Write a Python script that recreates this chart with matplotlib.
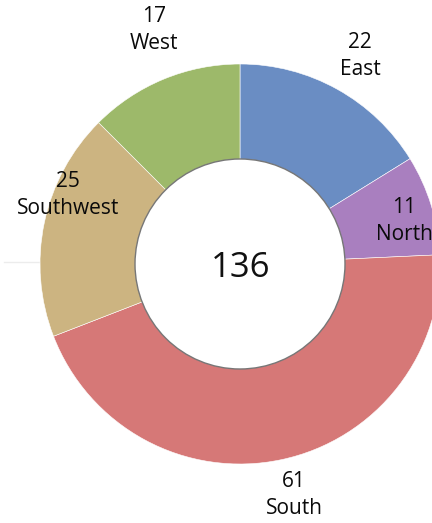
import matplotlib
matplotlib.use("Agg")
import matplotlib.pyplot as plt
from matplotlib.patches import Circle

categories = ["East", "North", "South", "Southwest", "West"]
values = [22, 11, 61, 25, 17]
colors = ["#6a8dc3", "#a97fbf", "#d67877", "#ccb481", "#9db96a"]
total_label = str(sum(values))

W, H = 432, 523
fig = plt.figure(figsize=(W / 100, H / 100), dpi=100)
ax = fig.add_axes([0, 0, 1, 1])

cx, cy, R, r_in = 240, H - 264, 200, 105

# faint reference line
ax.plot([4, 45], [H - 262, H - 262], color="#ececec", lw=1, zorder=0)

ax.pie(values, colors=colors, startangle=90, counterclock=False,
       center=(cx, cy), radius=R, frame=True,
       wedgeprops=dict(edgecolor="white", linewidth=0.4))
ax.set_xlim(0, W)
ax.set_ylim(0, H)
ax.set_aspect("equal")
ax.axis("off")

ax.add_patch(Circle((cx, cy), r_in, facecolor="white", edgecolor="#777777", lw=1.0, zorder=5))
ax.text(cx + 0.5, cy, total_label, ha="center", va="center_baseline", fontsize=25,
        family="Open Sans", color="#111111", zorder=6)

label_pos = [(360, 56), (404, 221), (294, 495), (68, 195), (154, 30)]
for cat, v, (px, py) in zip(categories, values, label_pos):
    ax.text(px, H - py, f"{v}\n{cat}", ha="center", va="center", fontsize=15,
            family="Open Sans", color="#0a0a0a", linespacing=1.42, zorder=6)

fig.savefig("out.png", dpi=100)
